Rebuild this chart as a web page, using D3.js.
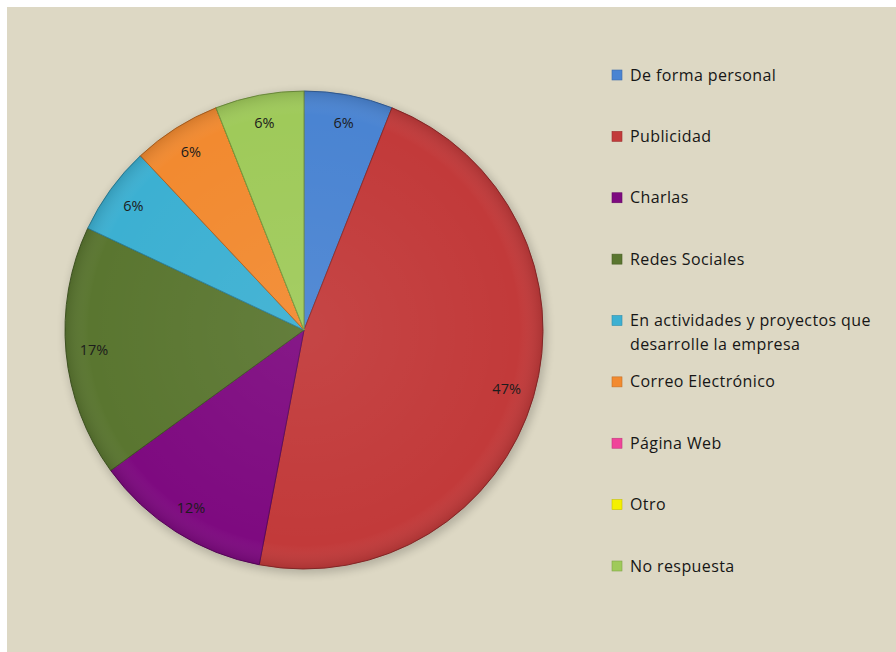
<!DOCTYPE html>
<html>
<head>
<meta charset="utf-8">
<script src="https://cdn.jsdelivr.net/npm/d3@7"></script>
<style>
  body { margin: 0; background: #fff; }
  text { font-family: "Open Sans", Lato, sans-serif; }
</style>
</head>
<body>
<svg id="chart" width="896" height="652"></svg>
<script>
// share of answers, in percent
const categories = [
    'De forma personal',
    'Publicidad',
    'Charlas',
    'Redes Sociales',
    'En actividades y proyectos que|desarrolle la empresa',
    'Correo Electrónico',
    'Página Web',
    'Otro',
    'No respuesta'
];
const percents = [6, 47, 12, 17, 6, 6, 0, 0, 6];
const colors = ['#4a84d2', '#c23a3a', '#7e0a80', '#5a7630', '#3cb0d2', '#f28a30', '#f0449a', '#f4f000', '#9fca5a'];

const svg = d3.select('#chart');
svg.append('rect')
    .attr('x', 7).attr('y', 7).attr('width', 889).attr('height', 645)
    .attr('fill', '#ddd8c4');

const defs = svg.append('defs');
const shade = defs.append('radialGradient').attr('id', 'shade')
    .attr('gradientUnits', 'userSpaceOnUse')
    .attr('cx', 0).attr('cy', 0).attr('r', 239);
shade.append('stop').attr('offset', '0%').attr('stop-color', '#fff').attr('stop-opacity', 0.06);
shade.append('stop').attr('offset', '90%').attr('stop-color', '#fff').attr('stop-opacity', 0);
shade.append('stop').attr('offset', '100%').attr('stop-color', '#000').attr('stop-opacity', 0.12);

const blur = defs.append('filter').attr('id', 'soft').attr('x', '-10%').attr('y', '-10%').attr('width', '120%').attr('height', '120%');
blur.append('feGaussianBlur').attr('stdDeviation', 4);

const cx = 304, cy = 330, r = 239;
const pie = d3.pie().sort(null).value(d => d)(percents);
const arc = d3.arc().innerRadius(0).outerRadius(r);
const labelArc = d3.arc().innerRadius(211).outerRadius(211);

const g = svg.append('g').attr('transform', `translate(${cx},${cy})`);
g.append('circle').attr('r', r + 2).attr('cx', 2).attr('cy', 3)
    .attr('fill', '#000').attr('opacity', 0.18).attr('filter', 'url(#soft)');

g.selectAll('path.slice').data(pie).enter().append('path')
    .attr('class', 'slice')
    .attr('d', arc)
    .attr('fill', (d, i) => colors[i])
    .attr('stroke', (d, i) => d3.color(colors[i]).darker(0.9))
    .attr('stroke-width', 1);

g.selectAll('path.shade').data(pie.filter(d => d.value > 0)).enter().append('path')
    .attr('class', 'shade')
    .attr('d', arc)
    .attr('fill', 'url(#shade)');

g.selectAll('text.pct').data(pie.filter(d => d.value > 0)).enter().append('text')
    .attr('class', 'pct')
    .attr('transform', d => `translate(${labelArc.centroid(d)})`)
    .attr('text-anchor', 'middle')
    .attr('dy', '0.35em')
    .attr('font-size', 14.5)
    .attr('fill', '#1c1c1c')
    .text(d => d.value + '%');

// legend
const legendY = d3.scalePoint().domain(d3.range(categories.length)).range([75, 566]);
const legend = svg.append('g');
const item = legend.selectAll('g').data(categories).enter().append('g')
    .attr('transform', (d, i) => `translate(612,${legendY(i)})`);
item.append('rect')
    .attr('x', 0).attr('y', -5).attr('width', 10).attr('height', 10)
    .attr('fill', (d, i) => colors[i])
    .attr('stroke', (d, i) => d3.color(colors[i]).darker(0.6))
    .attr('stroke-width', 0.6);
item.append('text')
    .attr('font-size', 16)
    .attr('letter-spacing', 0.4)
    .attr('fill', '#161616')
    .selectAll('tspan').data(d => d.split('|')).enter().append('tspan')
    .attr('x', 18)
    .attr('y', (d, i) => i * 24)
    .attr('dy', '0.35em')
    .text(d => d);
</script>
</body>
</html>
